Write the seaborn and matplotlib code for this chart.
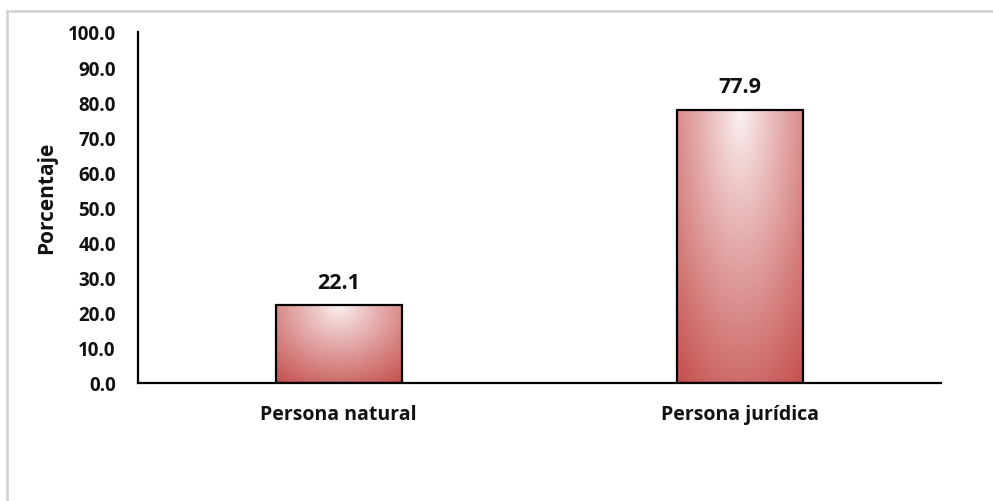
import numpy as np
import pandas as pd
import matplotlib
matplotlib.use("Agg")
import matplotlib.pyplot as plt
import seaborn as sns
from matplotlib.lines import Line2D

categorias = ["Persona natural", "Persona jurídica"]
porcentajes = [22.1, 77.9]
ticks_y = [0, 10, 20, 30, 40, 50, 60, 70, 80, 90, 100]

sns.set_theme(style="white")
plt.rcParams["font.family"] = ["Open Sans", "DejaVu Sans"]

df = pd.DataFrame({"categoria": categorias, "porcentaje": porcentajes})

fig = plt.figure(figsize=(9.93, 5.02), dpi=100)
ax = fig.add_axes([138 / 993, 1 - 384 / 502, (941 - 138) / 993, (384 - 33) / 502])

sns.barplot(data=df, x="categoria", y="porcentaje", ax=ax, width=0.314,
            color="#C0504D", edgecolor="black", linewidth=1.6, saturation=1)

ax.set_ylim(0, 100)
ax.set_xlim(-0.5, 1.5)
ax.set_yticks(ticks_y)
ax.set_yticklabels([f"{t:.1f}" for t in ticks_y], fontsize=13.5, fontweight="bold", color="#111111")
ax.tick_params(axis="x", labelsize=14, pad=15, length=0)
ax.tick_params(axis="y", length=0, pad=16)
for lbl in ax.get_xticklabels():
    lbl.set_fontweight("bold")
    lbl.set_color("#111111")
ax.set_xlabel("")
ax.set_ylabel("Porcentaje", fontsize=15, fontweight="bold", color="#111111")
ax.yaxis.label.set_verticalalignment("center")
ax.yaxis.set_label_coords(-0.114, 0.53)

for side in ["top", "right"]:
    ax.spines[side].set_visible(False)
for side in ["left", "bottom"]:
    ax.spines[side].set_color("black")
    ax.spines[side].set_linewidth(1.6)

# gradient fill: light at the top centre, deep red towards the base and sides
light = np.array([252, 244, 244]) / 255
dark = np.array([196, 78, 76]) / 255
for patch in ax.patches:
    x0, y0 = patch.get_x(), patch.get_y()
    w, h = patch.get_width(), patch.get_height()
    nx, ny = 200, 200
    xs = np.linspace(-1, 1, nx)
    ys = np.linspace(0, 1, ny)
    X, Y = np.meshgrid(xs, ys)
    t = np.sqrt((X * 0.75) ** 2 + (1 - Y) ** 2) / 1.25
    t = np.clip(t, 0, 1) ** 0.9
    img = light[None, None, :] * (1 - t[..., None]) + dark[None, None, :] * t[..., None]
    im = ax.imshow(img, extent=[x0, x0 + w, y0, y0 + h], origin="lower",
                   aspect="auto", zorder=patch.get_zorder() - 0.1, interpolation="bilinear")
    im.set_clip_path(patch)
    patch.set_facecolor("none")
    patch.set_zorder(patch.get_zorder() + 0.2)

ax.set_xlim(-0.5, 1.5)
ax.set_ylim(0, 100)

for i, v in enumerate(porcentajes):
    ax.text(i, v + 5.1, f"{v:.1f}", ha="center", va="baseline", fontsize=15.5,
            fontweight="bold", color="#111111")

# light frame along the top and left edges of the figure
fig.add_artist(Line2D([7 / 993, 7 / 993], [0, 1 - 12 / 502], transform=fig.transFigure,
                      color="#D4D4D4", linewidth=2))
fig.add_artist(Line2D([7 / 993, 1], [1 - 12 / 502, 1 - 12 / 502], transform=fig.transFigure,
                      color="#D4D4D4", linewidth=2))

fig.savefig("out.png", dpi=100)
